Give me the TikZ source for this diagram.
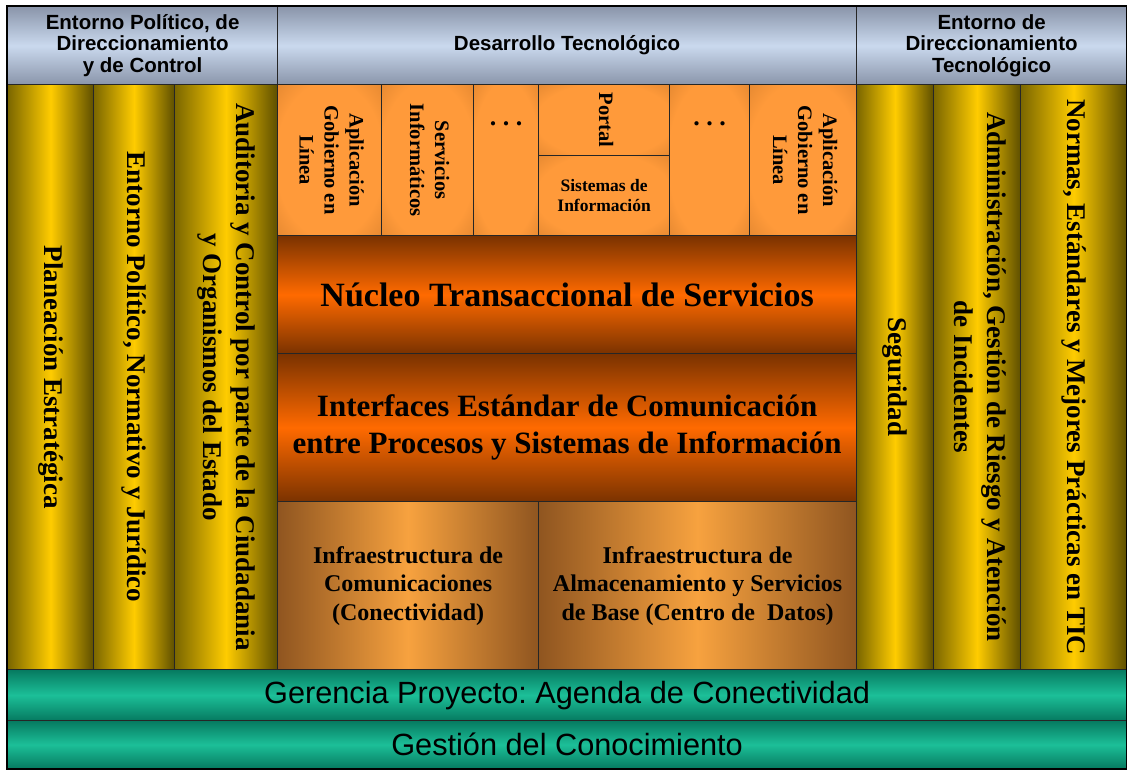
\documentclass[tikz,border=0pt]{standalone}
\usepackage{fontspec}
\setmainfont{Liberation Serif}
\setsansfont{Liberation Sans}
\usepackage{graphicx}
\usetikzlibrary{calc}

\definecolor{hdredge}{HTML}{8A95AA}
\definecolor{hdrmid}{HTML}{CAD9EE}
\definecolor{oliveL}{HTML}{7A6600}
\definecolor{oliveR}{HTML}{5E4F00}
\definecolor{gold}{HTML}{FFCC00}
\definecolor{appin}{HTML}{FF9A3A}
\definecolor{appout}{HTML}{8A4B12}
\definecolor{rustdark}{HTML}{7A3200}
\definecolor{rustbright}{HTML}{FF6A00}
\definecolor{copperdark}{HTML}{8F5520}
\definecolor{copperlight}{HTML}{F7A23F}
\definecolor{tealdark}{HTML}{067A60}
\definecolor{teallight}{HTML}{1CBF98}

\pgfdeclareradialshading{appglow}{\pgfpoint{0bp}{0bp}}{color(0bp)=(appin); color(26bp)=(appin); color(72bp)=(appout)}

\newcommand\vtext[1]{\rotatebox{-90}{\begin{tabular}{@{}c@{}}#1\end{tabular}}}

\begin{document}
\frenchspacing
\begin{tikzpicture}[x=1pt,y=-1pt,
	cell/.style 2 args={rectangle, draw=black!85, line width=1.2pt, inner sep=0pt, anchor=north west, minimum width=#1pt, minimum height=#2pt},
	hdr/.style={top color=hdredge, bottom color=hdredge, middle color=hdrmid, align=center, font=\sffamily\bfseries\fontsize{20.5}{21.5}\selectfont},
	pillar/.style={left color=oliveL, right color=oliveR, middle color=gold, font=\bfseries\fontsize{27}{33}\selectfont},
	app/.style={shading=appglow, font=\bfseries\fontsize{20.5}{25}\selectfont},
	core/.style={top color=rustdark, bottom color=rustdark, middle color=rustbright, align=center},
	infra/.style={left color=copperdark, right color=copperdark, middle color=copperlight, align=center, font=\bfseries\fontsize{24}{28.5}\selectfont},
	band/.style={top color=tealdark, bottom color=tealdark, middle color=teallight, font=\sffamily\fontsize{30.7}{34}\selectfont}]
		\useasboundingbox (0,0) rectangle (1127,769);
		% cabecera
		\foreach \n/\x/\w/\t in {H1/7/270/{Entorno Político, de\\Direccionamiento\\y de Control}, H2/277/579/{Desarrollo Tecnológico}, H3/856/270/{Entorno de\\Direccionamiento\\Tecnológico}}
			\node[cell={\w}{78}, hdr] (\n) at (\x,6) {\t};
		% pilares
		\foreach \n/\x/\w/\t in {C1/7/86/{Planeación Estratégica}, C2/93/81/{Entorno Político, Normativo y Jurídico}, C3/174/103/{Auditoria y Control por parte de la Ciudadania\\y Organismos del Estado}, C4/856/77/{Seguridad}, C5/933/87/{Administración, Gestión de Riesgo y Atención\\de Incidentes}, C6/1020/106/{Normas, Estándares y Mejores Prácticas en TIC}}
			\node[cell={\w}{585}, pillar] (\n) at (\x,84) {\vtext{\t}};
		% aplicaciones
		\foreach \n/\x/\w/\t in {A1/277/104/{Aplicación\\Gobierno en\\Línea}, A2/381/92/{Servicios\\Informáticos}, A3/473/65/{}, A4/669/80/{}, A5/749/107/{Aplicación\\Gobierno en\\Línea}}
			\node[cell={\w}{151}, app] (\n) at (\x,84) {\vtext{\t}};
		\node[cell={131}{71}, app] (P) at (538,84) {\vtext{Portal}};
		\node[cell={131}{80}, app, align=center, font=\bfseries\fontsize{17.5}{20.5}\selectfont] (SI) at (538,155) {Sistemas de\\Información};
		\foreach \n in {A3,A4}
			\node[font=\bfseries\fontsize{26}{25}\selectfont] (dots\n) at ($(\n.north)+(0,40)$) {. . .};
		% nucleo e interfaces
		\node[cell={579}{118}, core, font=\bfseries\fontsize{34}{40}\selectfont] (N) at (277,235) {Núcleo Transaccional de Servicios};
		\node[cell={579}{148}, core, font=\bfseries\fontsize{31}{37}\selectfont] (I) at (277,353) {Interfaces Estándar de Comunicación\\entre Procesos y Sistemas de Información};
		\node[cell={261}{168}, infra] (F1) at (277,501) {Infraestructura de\\Comunicaciones\\(Conectividad)};
		\node[cell={318}{168}, infra] (F2) at (538,501) {Infraestructura de\\Almacenamiento y Servicios\\de Base (Centro de\ \ Datos)};
		% franjas inferiores
		\node[cell={1119}{51}, band] (G1) at (7,669) {Gerencia Proyecto: Agenda de Conectividad};
		\node[cell={1119}{48}, band] (G2) at (7,720) {Gestión del Conocimiento};
		\draw[line width=2pt] (H1.north west) rectangle (G2.south east);
	\end{tikzpicture}
\end{document}
